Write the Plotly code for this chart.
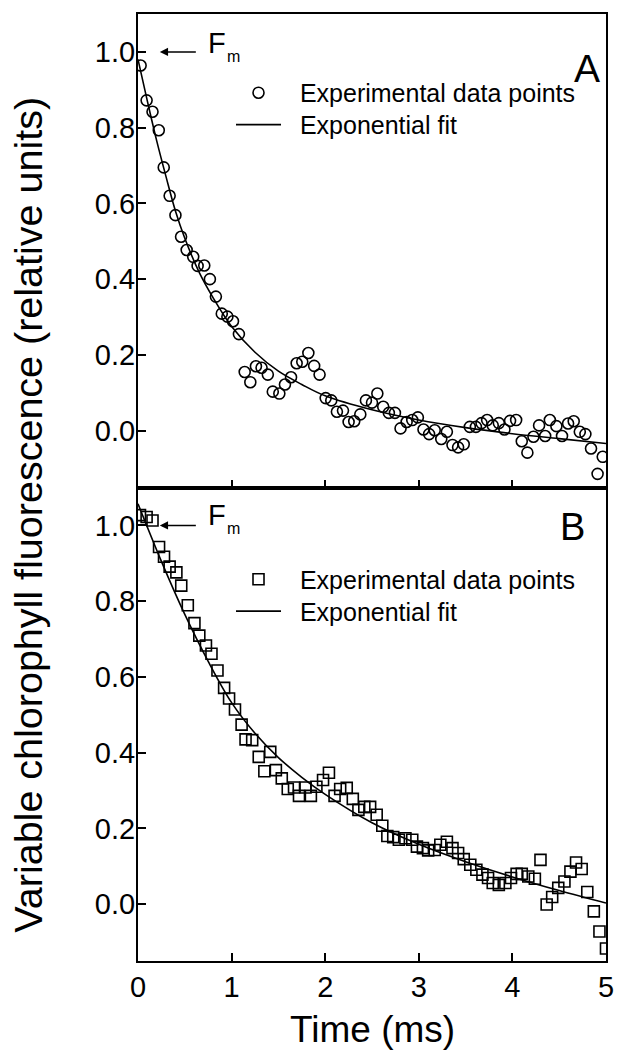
import plotly.graph_objects as go
from plotly.subplots import make_subplots

# ---------------- data ----------------
time_a = [0.028, 0.092, 0.155, 0.222, 0.275, 0.338, 0.40, 0.46, 0.52, 0.59,
          0.637, 0.708, 0.768, 0.832, 0.895, 0.955, 1.015, 1.078, 1.14, 1.20,
          1.26, 1.32, 1.387, 1.44, 1.51, 1.57, 1.635, 1.695, 1.755, 1.82,
          1.882, 1.94, 2.005, 2.065, 2.125, 2.19, 2.25, 2.31, 2.375, 2.435,
          2.50, 2.557, 2.62, 2.68, 2.745, 2.805, 2.87, 2.93, 2.99, 3.05,
          3.11, 3.17, 3.24, 3.30, 3.36, 3.42, 3.48, 3.545, 3.61, 3.67,
          3.73, 3.79, 3.855, 3.915, 3.975, 4.04, 4.10, 4.16, 4.225, 4.285,
          4.35, 4.40, 4.47, 4.53, 4.595, 4.655, 4.72, 4.78, 4.84, 4.91, 4.965]
fluor_a = [0.964, 0.872, 0.842, 0.793, 0.695, 0.62, 0.569, 0.512, 0.477, 0.459,
           0.435, 0.436, 0.40, 0.354, 0.309, 0.301, 0.289, 0.255, 0.155, 0.128,
           0.17, 0.166, 0.148, 0.103, 0.098, 0.122, 0.141, 0.178, 0.182, 0.205,
           0.171, 0.148, 0.086, 0.08, 0.05, 0.053, 0.023, 0.025, 0.043, 0.08,
           0.074, 0.098, 0.063, 0.047, 0.047, 0.006, 0.023, 0.028, 0.035, 0.003,
           -0.009, 0.001, -0.022, -0.003, -0.038, -0.044, -0.036, 0.01, 0.01, 0.02,
           0.028, 0.014, 0.02, 0.003, 0.026, 0.028, -0.028, -0.058, -0.016, 0.014,
           -0.014, 0.028, 0.012, -0.014, 0.019, 0.025, -0.003, -0.009, -0.047, -0.114, -0.069]

fit_time_a = [0, 0.1, 0.2, 0.3, 0.4, 0.5, 0.65, 0.8, 1.0, 1.25, 1.5, 1.75, 2.0,
              2.5, 3.0, 3.5, 4.0, 4.5, 5.0]
fit_a = [0.98, 0.87, 0.765, 0.67, 0.58, 0.508, 0.42, 0.352, 0.275, 0.207, 0.157,
         0.122, 0.092, 0.055, 0.028, 0.008, -0.008, -0.021, -0.034]

time_b = [0.021, 0.092, 0.155, 0.225, 0.278, 0.338, 0.41, 0.462, 0.532, 0.603,
          0.655, 0.726, 0.785, 0.849, 0.92, 0.973, 1.036, 1.107, 1.149, 1.22,
          1.29, 1.35, 1.413, 1.473, 1.536, 1.60, 1.667, 1.72, 1.79, 1.847,
          1.906, 1.977, 2.04, 2.10, 2.16, 2.23, 2.295, 2.355, 2.418, 2.48,
          2.55, 2.61, 2.664, 2.727, 2.787, 2.857, 2.93, 2.98, 3.044, 3.10,
          3.17, 3.23, 3.30, 3.36, 3.42, 3.48, 3.55, 3.615, 3.68, 3.74,
          3.79, 3.855, 3.925, 3.985, 4.045, 4.10, 4.17, 4.24, 4.30, 4.366,
          4.425, 4.49, 4.556, 4.62, 4.68, 4.74, 4.80, 4.87, 4.93, 5.0]
fluor_b = [1.027, 1.022, 1.013, 0.943, 0.917, 0.891, 0.876, 0.841, 0.789, 0.742,
           0.709, 0.683, 0.661, 0.617, 0.571, 0.543, 0.514, 0.474, 0.435, 0.433,
           0.389, 0.351, 0.402, 0.354, 0.332, 0.304, 0.308, 0.286, 0.308, 0.286,
           0.31, 0.328, 0.347, 0.286, 0.304, 0.307, 0.278, 0.249, 0.257, 0.257,
           0.236, 0.207, 0.18, 0.177, 0.17, 0.174, 0.17, 0.152, 0.148, 0.142,
           0.143, 0.157, 0.165, 0.148, 0.135, 0.119, 0.104, 0.091, 0.078, 0.069,
           0.056, 0.051, 0.056, 0.069, 0.08, 0.08, 0.073, 0.067, 0.117, -0.001,
           0.019, 0.043, 0.06, 0.086, 0.11, 0.093, 0.032, -0.019, -0.072, -0.117]

fit_time_b = [0, 0.25, 0.5, 0.75, 1.0, 1.25, 1.5, 1.75, 2.0, 2.5, 3.0, 3.5, 4.0, 4.5, 5.0]
fit_b = [1.057, 0.905, 0.765, 0.641, 0.532, 0.451, 0.387, 0.335, 0.29, 0.215,
         0.158, 0.112, 0.072, 0.036, 0.003]

y_ticks = [0.0, 0.2, 0.4, 0.6, 0.8, 1.0]
y_tick_text = ["0.0", "0.2", "0.4", "0.6", "0.8", "1.0"]
x_ticks = [0, 1, 2, 3, 4, 5]
panel_labels = ["A", "B"]
legend_names = ["Experimental data points", "Exponential fit"]

# ---------------- figure ----------------
W, H = 626, 1054
ML, MR, MT, MB = 138, 15, 13, 93
PW, PH = W - ML - MR, H - MT - MB


def px_x(px):
    return (px - ML) / PW


def px_y(py):
    return (H - MB - py) / PH


FONT = "Liberation Sans, Arial, sans-serif"
GAP = "\u00a0\u00a0"  # small extra gap between legend symbol and label

fig = make_subplots(rows=2, cols=1, shared_xaxes=True, vertical_spacing=0)

marker_line = dict(width=1.6, color="black")
fig.add_trace(go.Scatter(x=time_a, y=fluor_a, mode="markers", name=GAP + legend_names[0],
                         marker=dict(symbol="circle-open", size=11, color="black", line=marker_line),
                         legend="legend"), row=1, col=1)
fig.add_trace(go.Scatter(x=fit_time_a, y=fit_a, mode="lines", name=GAP + legend_names[1],
                         line=dict(color="black", width=1.6, shape="spline"),
                         legend="legend2"), row=1, col=1)
fig.add_trace(go.Scatter(x=time_b, y=fluor_b, mode="markers", name=GAP + legend_names[0],
                         marker=dict(symbol="square-open", size=11, color="black", line=marker_line),
                         legend="legend3"), row=2, col=1)
fig.add_trace(go.Scatter(x=fit_time_b, y=fit_b, mode="lines", name=GAP + legend_names[1],
                         line=dict(color="black", width=1.6, shape="spline"),
                         legend="legend4"), row=2, col=1)

axis_common = dict(showline=True, linewidth=2, linecolor="black", mirror=True,
                   ticks="inside", ticklen=8, tickwidth=1.5, tickcolor="black",
                   showgrid=False, zeroline=False,
                   tickfont=dict(size=29, family=FONT, color="black"))

for r in (1, 2):
    fig.update_xaxes(range=[0, 5], tickvals=x_ticks, row=r, col=1,
                     showticklabels=(r == 2), ticklabelstandoff=-1, **axis_common)
    fig.update_yaxes(range=[-0.15, 1.1], tickvals=y_ticks, ticktext=y_tick_text,
                     row=r, col=1, ticklabelstandoff=-5, **axis_common)

legend_common = dict(font=dict(size=25, family=FONT, color="black"),
                     bgcolor="rgba(0,0,0,0)", borderwidth=0, itemwidth=45,
                     xanchor="left", yanchor="top", tracegroupgap=0)

fig.update_layout(
    width=W, height=H,
    margin=dict(l=ML, r=MR, t=MT, b=MB, pad=0),
    paper_bgcolor="white", plot_bgcolor="white",
    font=dict(family=FONT, color="black"),
    showlegend=True,
    legend=dict(x=px_x(232), y=px_y(69), **legend_common),
    legend2=dict(x=px_x(232), y=px_y(101), **legend_common),
    legend3=dict(x=px_x(232), y=px_y(556), **legend_common),
    legend4=dict(x=px_x(232), y=px_y(588), **legend_common),
)

annotations = []
# Panel labels
annotations.append(dict(xref="paper", yref="paper", x=px_x(607), y=px_y(68),
                        xanchor="right", yanchor="middle", text=panel_labels[0],
                        showarrow=False, font=dict(size=39, family=FONT, color="black")))
annotations.append(dict(xref="paper", yref="paper", x=px_x(592), y=px_y(527),
                        xanchor="right", yanchor="middle", text=panel_labels[1],
                        showarrow=False, font=dict(size=38, family=FONT, color="black")))

# Fm arrows and labels
for xr, yr, fpy in (("x", "y", 42.5), ("x2", "y2", 515)):
    annotations.append(dict(xref=xr, yref=yr, x=0.233, y=1.0, ax=0.634, ay=1.0,
                            axref=xr, ayref=yr, text="", showarrow=True,
                            arrowhead=2, arrowsize=1.1, arrowwidth=1.5,
                            arrowcolor="black", standoff=0, startstandoff=0))
    annotations.append(dict(xref="paper", yref="paper", x=px_x(207), y=px_y(fpy),
                            xanchor="left", yanchor="middle", text="F", showarrow=False,
                            font=dict(size=29, family=FONT, color="black")))
    annotations.append(dict(xref="paper", yref="paper", x=px_x(226), y=px_y(fpy + 13),
                            xanchor="left", yanchor="middle", text="m", showarrow=False,
                            font=dict(size=16, family=FONT, color="black")))

# Axis titles
annotations.append(dict(xref="paper", yref="paper", x=px_x(375), y=px_y(1030),
                        xanchor="center", yanchor="middle", text="Time (ms)",
                        showarrow=False, font=dict(size=37, family=FONT, color="black")))
annotations.append(dict(xref="paper", yref="paper", x=px_x(27), y=px_y(514),
                        xanchor="center", yanchor="middle", textangle=-90,
                        text="Variable chlorophyll fluorescence (relative units)",
                        showarrow=False, font=dict(size=39.5, family=FONT, color="black")))

fig.update_layout(annotations=annotations)

fig.write_html("out.html", config={"displayModeBar": False},
               post_script="document.body.style.margin='0';document.body.style.overflow='hidden';")
